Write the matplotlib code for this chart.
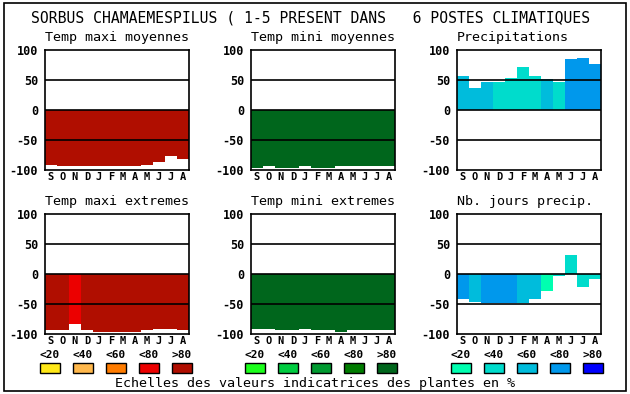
import matplotlib
matplotlib.use('Agg')
import matplotlib.pyplot as plt
from matplotlib.patches import Rectangle

# data
months = list('SONDJFMAMJJA')
scale_labels = ['<20', '<40', '<60', '<80', '>80']

reds = ['#FFE818', '#FFB84C', '#FF7C00', '#EC0000', '#B00E00']
greens = ['#1CFF1C', '#00CC40', '#009A30', '#007C00', '#00661C']
blues = ['#00FFB0', '#00DCCC', '#00BCDC', '#0098EC', '#0000FF']

tmax_moy = [-91, -93, -94, -93, -93, -93, -94, -94, -91, -86, -76, -81]
tmax_moy_cls = [4] * 12
tmin_moy = [-96, -94, -96, -96, -94, -96, -96, -94, -93, -94, -94, -94]
tmin_moy_cls = [4] * 12
precip = [57, 37, 47, 46, 54, 71, 56, 52, 47, 85, 87, 77]
precip_cls = [2, 2, 2, 1, 1, 1, 1, 2, 1, 3, 3, 3]
tmax_ext = [-93, -93, -83, -94, -96, -96, -96, -96, -93, -91, -91, -93]
tmax_ext_cls = [4, 4, 3, 4, 4, 4, 4, 4, 4, 4, 4, 4]
tmin_ext = [-91, -91, -94, -94, -91, -94, -94, -96, -93, -94, -94, -93]
tmin_ext_cls = [4] * 12
nb_jours = [-41, -46, -49, -49, -49, -48, -41, -28, -4, 32, -21, -8]
nb_jours_cls = [3, 2, 3, 3, 3, 2, 2, 0, 1, 1, 1, 1]

W, H = 630, 394
fig = plt.figure(figsize=(W / 100, H / 100), dpi=100)
fig.patch.set_facecolor('white')
mono = 'DejaVu Sans Mono'


def px_axes(x0, y0, x1, y1):
    return fig.add_axes([x0 / W, 1 - y1 / H, (x1 - x0) / W, (y1 - y0) / H])


def panel(x0, y0, title, vals, cls, palette):
    ax = px_axes(x0, y0, x0 + 144, y0 + 120)
    ax.bar(range(12), vals, width=1.0, color=[palette[c] for c in cls],
           linewidth=0, zorder=2)
    for yv in (50, 0, -50):
        ax.axhline(yv, color='black', lw=1.2, zorder=3)
    ax.set_xlim(-0.5, 11.5)
    ax.set_ylim(-100, 100)
    ax.set_yticks([100, 50, 0, -50, -100])
    ax.set_yticklabels(['100', '50', '0', '-50', '-100'], family=mono,
                       fontsize=8.5, fontweight='bold')
    ax.set_xticks(range(12))
    ax.set_xticklabels(months, family=mono, fontsize=7.5, fontweight='bold')
    ax.tick_params(length=0, pad=1.5, axis='x')
    ax.tick_params(length=0, pad=5, axis='y')
    for s in ax.spines.values():
        s.set_linewidth(1.2)
    fig.text(x0 / W, 1 - (y0 - 12) / H, title, family=mono, fontsize=9.6,
             ha='left', va='center')
    return ax


panel(45, 50, 'Temp maxi moyennes', tmax_moy, tmax_moy_cls, reds)
panel(251, 50, 'Temp mini moyennes', tmin_moy, tmin_moy_cls, greens)
panel(457, 50, 'Precipitations', precip, precip_cls, blues)
panel(45, 214, 'Temp maxi extremes', tmax_ext, tmax_ext_cls, reds)
panel(251, 214, 'Temp mini extremes', tmin_ext, tmin_ext_cls, greens)
panel(457, 214, 'Nb. jours precip.', nb_jours, nb_jours_cls, blues)

fig.text(31 / W, 1 - 18 / H,
         'SORBUS CHAMAEMESPILUS ( 1-5 PRESENT DANS   6 POSTES CLIMATIQUES',
         family=mono, fontsize=10.6, ha='left', va='center')

# colour scales
for start, palette in ((40, reds), (245, greens), (451, blues)):
    for i, (lab, col) in enumerate(zip(scale_labels, palette)):
        x = start + i * 33
        fig.text((x + 10) / W, 1 - 355 / H, lab, family=mono, fontsize=8,
                 fontweight='bold', ha='center', va='center')
        fig.add_artist(Rectangle((x / W, 1 - 373 / H), 20 / W, 10 / H,
                                 facecolor=col, edgecolor='black', lw=1,
                                 transform=fig.transFigure))

fig.text(315 / W, 1 - 383 / H,
         'Echelles des valeurs indicatrices des plantes en %',
         family=mono, fontsize=9.6, ha='center', va='center')

fig.add_artist(Rectangle((4 / W, 1 - 391 / H), 622 / W, 388 / H,
                         facecolor='none', edgecolor='black', lw=1.2,
                         transform=fig.transFigure))

fig.savefig('out.png', dpi=100)
